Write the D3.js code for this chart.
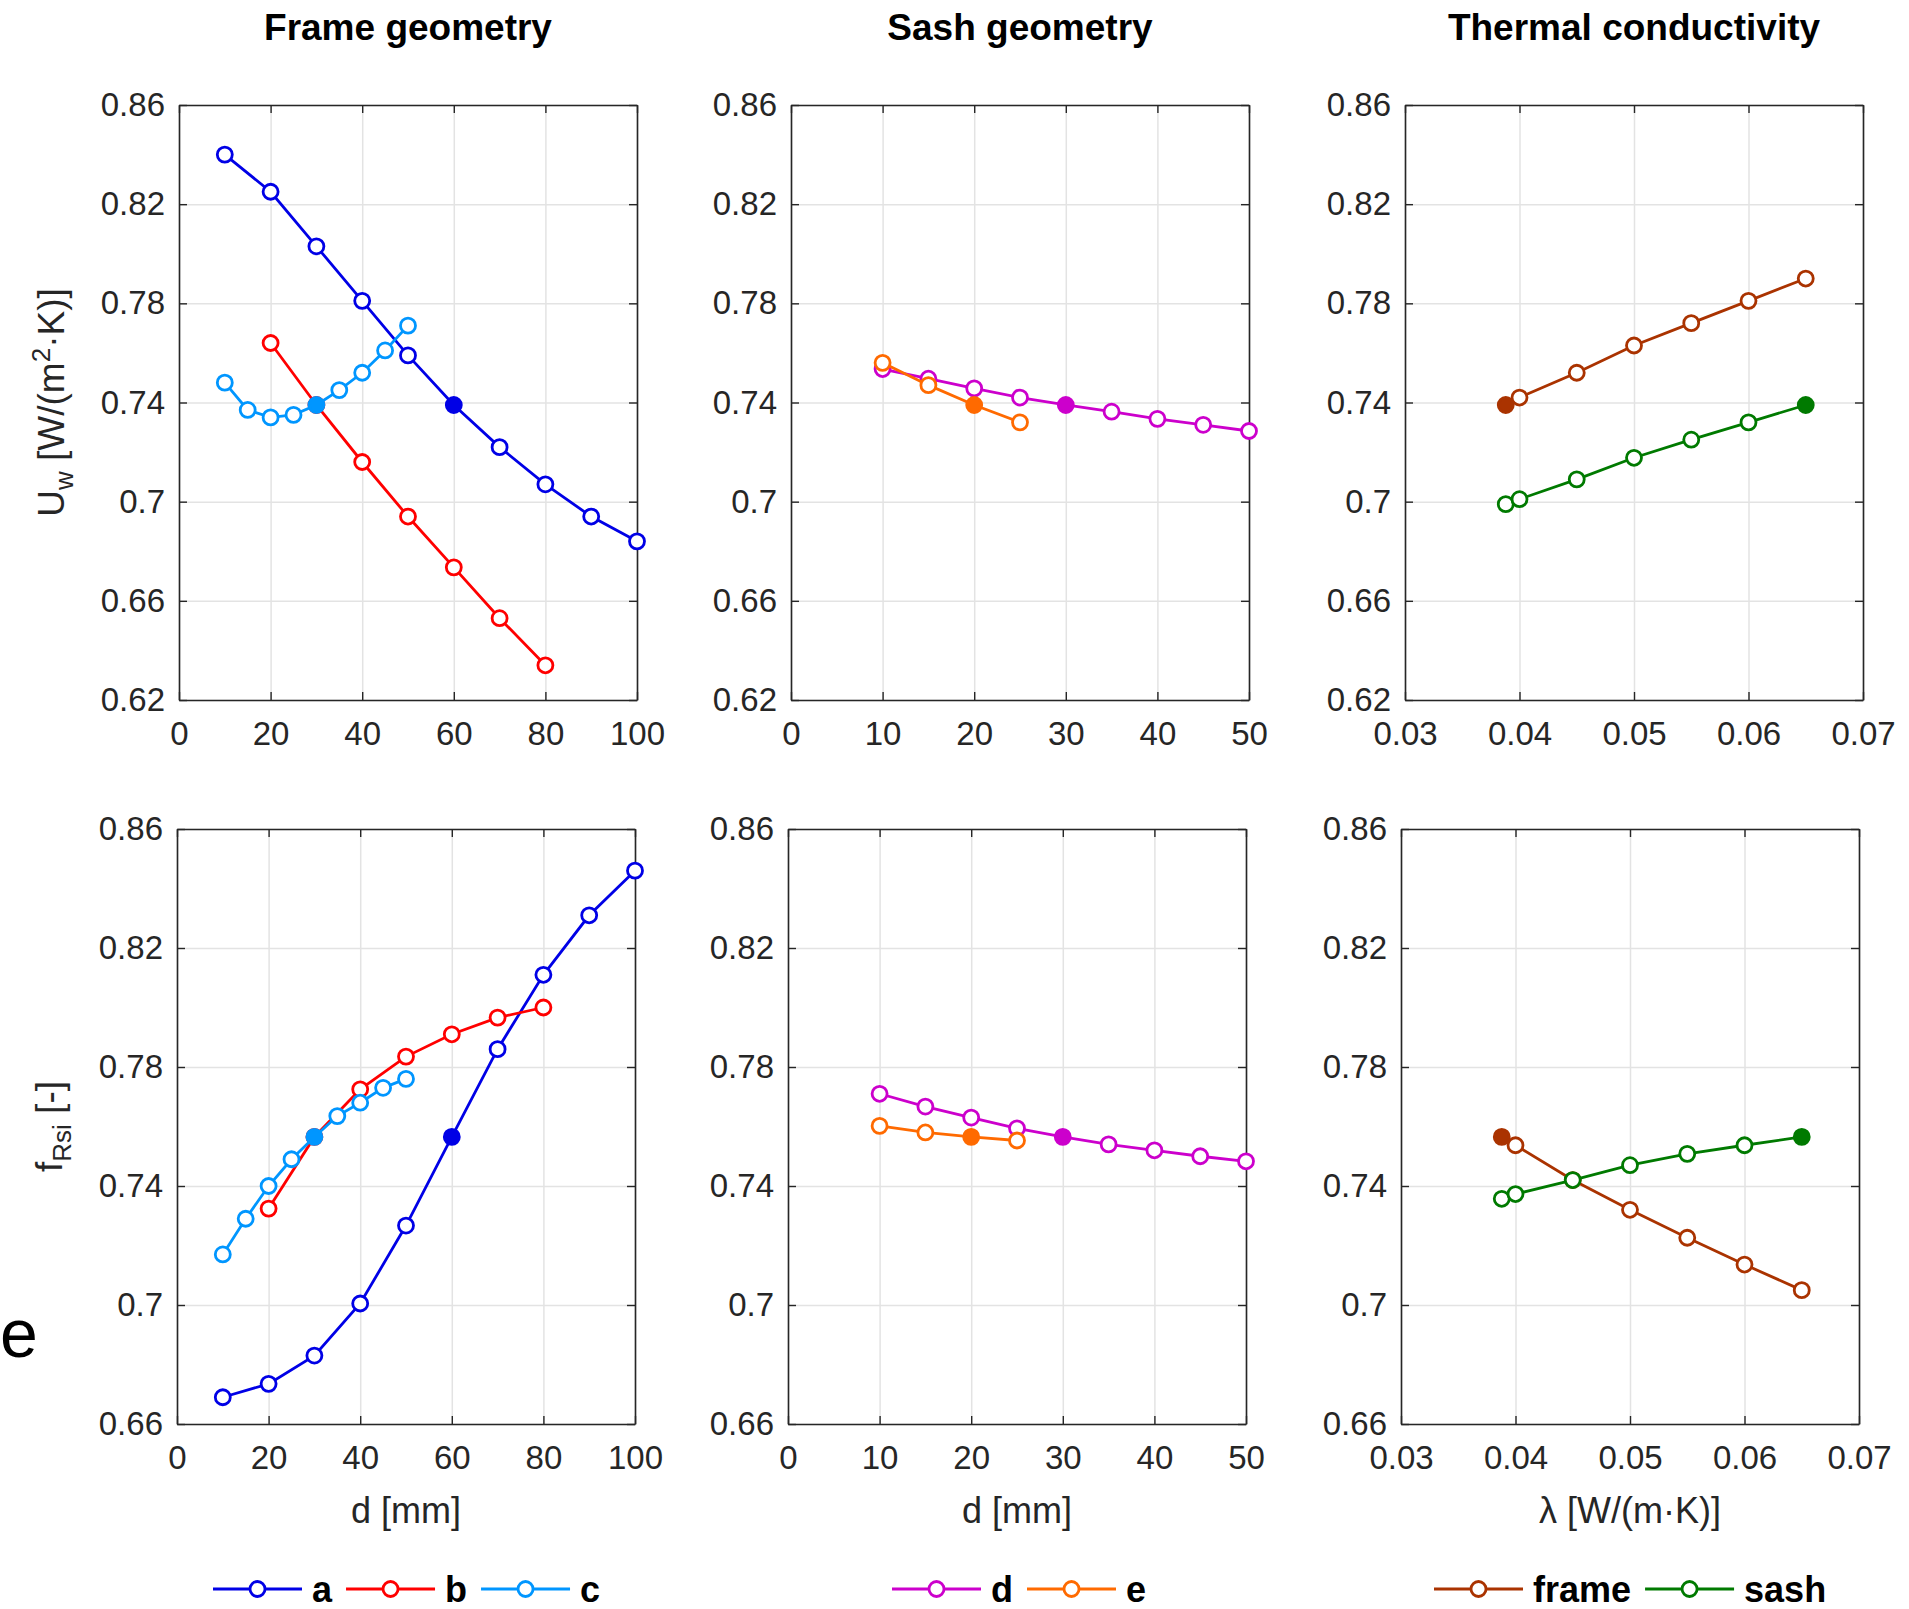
<!DOCTYPE html>
<html>
<head>
<meta charset="utf-8">
<script src="https://cdn.jsdelivr.net/npm/d3@7"></script>
<style>
  body { margin: 0; background: #fff; }
  svg text { font-family: "Liberation Sans", Arial, Helvetica, sans-serif; }
</style>
</head>
<body>
<svg id="chart" width="1909" height="1609"></svg>
<script>
// ---- data ----
// x values (d in mm, lambda in W/(m.K))
const dFrameA = [10, 20, 30, 40, 50, 60, 70, 80, 90, 100];
const dFrameB = [20, 30, 40, 50, 60, 70, 80];
const dFrameC = [10, 15, 20, 25, 30, 35, 40, 45, 50];
const dSashD = [10, 15, 20, 25, 30, 35, 40, 45, 50];
const dSashE = [10, 15, 20, 25];
const lambdaVals = [0.0388, 0.04, 0.045, 0.05, 0.055, 0.06, 0.065];

// U_w [W/(m2.K)]
const uwA = [0.840, 0.825, 0.803, 0.781, 0.759, 0.739, 0.722, 0.707, 0.694, 0.684];
const uwB = [0.764, 0.739, 0.716, 0.694, 0.6735, 0.653, 0.634];
const uwC = [0.748, 0.737, 0.734, 0.735, 0.739, 0.745, 0.752, 0.761, 0.771];
const uwD = [0.7535, 0.7496, 0.7457, 0.742, 0.739, 0.7363, 0.7334, 0.731, 0.7285];
const uwE = [0.756, 0.747, 0.739, 0.732];
const uwFrame = [0.739, 0.742, 0.752, 0.763, 0.772, 0.781, 0.790];
const uwSash = [0.699, 0.701, 0.709, 0.7177, 0.725, 0.732, 0.739];

// f_Rsi [-]
const frsiA = [0.669, 0.6735, 0.683, 0.7005, 0.7267, 0.7565, 0.786, 0.811, 0.831, 0.846];
const frsiB = [0.7324, 0.7565, 0.7725, 0.7835, 0.791, 0.7966, 0.800];
const frsiC = [0.717, 0.729, 0.740, 0.749, 0.7565, 0.7635, 0.768, 0.773, 0.776];
const frsiD = [0.771, 0.7667, 0.763, 0.7594, 0.7565, 0.754, 0.752, 0.750, 0.7483];
const frsiE = [0.7602, 0.758, 0.7565, 0.7553];
const frsiFrame = [0.7565, 0.7537, 0.742, 0.732, 0.7226, 0.7136, 0.705];
const frsiSash = [0.7357, 0.7373, 0.742, 0.747, 0.7508, 0.7537, 0.7565];

// reference case (filled marker) for each series
const baseA = 60, baseB = 30, baseC = 30, baseD = 30, baseE = 20;
const baseFrame = 0.0388, baseSash = 0.065;

// ticks
const xTicksFrame = [0, 20, 40, 60, 80, 100];
const xTicksSash = [0, 10, 20, 30, 40, 50];
const xTicksLambda = [0.03, 0.04, 0.05, 0.06, 0.07];
const yTicksUw = [0.62, 0.66, 0.7, 0.74, 0.78, 0.82, 0.86];
const yTicksFrsi = [0.66, 0.7, 0.74, 0.78, 0.82, 0.86];

const titles = ['Frame geometry', 'Sash geometry', 'Thermal conductivity'];

// ---- series groups ----
const frameSeries = [
  { name: 'a', color: '#0000e6', x: dFrameA, uw: uwA, frsi: frsiA, base: baseA },
  { name: 'b', color: '#ff0000', x: dFrameB, uw: uwB, frsi: frsiB, base: baseB },
  { name: 'c', color: '#0096ff', x: dFrameC, uw: uwC, frsi: frsiC, base: baseC }
];
const sashSeries = [
  { name: 'd', color: '#cc00cc', x: dSashD, uw: uwD, frsi: frsiD, base: baseD },
  { name: 'e', color: '#ff6a00', x: dSashE, uw: uwE, frsi: frsiE, base: baseE }
];
const lambdaSeries = [
  { name: 'frame', color: '#aa3300', x: lambdaVals, uw: uwFrame, frsi: frsiFrame, base: baseFrame },
  { name: 'sash', color: '#007a00', x: lambdaVals, uw: uwSash, frsi: frsiSash, base: baseSash }
];

const svg = d3.select('#chart');
const W = 458, H = 595;
const LW = 2.8, R = 7.5;
const fmt = v => String(+v.toFixed(3));

function drawPanel(left, top, xDomain, xTicks, yDomain, yTicks, series, key) {
  const g = svg.append('g').attr('transform', `translate(${left},${top})`);
  const x = d3.scaleLinear().domain(xDomain).range([0, W]);
  const y = d3.scaleLinear().domain(yDomain).range([H, 0]);

  // grid
  g.append('g')
    .attr('transform', `translate(0,${H})`)
    .call(d3.axisBottom(x).tickValues(xTicks).tickSize(-H).tickFormat(''))
    .call(a => a.select('.domain').remove())
    .selectAll('line').attr('stroke', '#e3e3e3').attr('stroke-width', 1.5);
  g.append('g')
    .call(d3.axisLeft(y).tickValues(yTicks).tickSize(-W).tickFormat(''))
    .call(a => a.select('.domain').remove())
    .selectAll('line').attr('stroke', '#e3e3e3').attr('stroke-width', 1.5);

  // axes with inward ticks
  const bottom = g.append('g')
    .attr('transform', `translate(0,${H})`)
    .call(d3.axisBottom(x).tickValues(xTicks).tickSizeInner(-8).tickSizeOuter(0).tickPadding(22).tickFormat(fmt));
  const leftAx = g.append('g')
    .call(d3.axisLeft(y).tickValues(yTicks).tickSizeInner(-8).tickSizeOuter(0).tickPadding(14).tickFormat(fmt));
  const topAx = g.append('g')
    .call(d3.axisTop(x).tickValues(xTicks).tickSizeInner(-8).tickSizeOuter(0).tickFormat(''));
  const rightAx = g.append('g')
    .attr('transform', `translate(${W},0)`)
    .call(d3.axisRight(y).tickValues(yTicks).tickSizeInner(-8).tickSizeOuter(0).tickFormat(''));
  [bottom, leftAx, topAx, rightAx].forEach(a => {
    a.select('.domain').attr('stroke', '#262626').attr('stroke-width', 1.6);
    a.selectAll('line').attr('stroke', '#262626').attr('stroke-width', 1.4);
    a.selectAll('text').attr('fill', '#262626').style('font-size', '33px');
  });

  const line = d3.line().x(d => x(d[0])).y(d => y(d[1]));

  series.forEach(s => {
    const pts = s.x.map((xv, i) => [xv, s[key][i]]);
    g.append('path')
      .datum(pts)
      .attr('fill', 'none')
      .attr('stroke', s.color)
      .attr('stroke-width', LW)
      .attr('d', line);
    g.selectAll(null)
      .data(pts)
      .enter().append('circle')
      .attr('cx', d => x(d[0]))
      .attr('cy', d => y(d[1]))
      .attr('r', R)
      .attr('fill', d => d[0] === s.base ? s.color : '#fff')
      .attr('stroke', s.color)
      .attr('stroke-width', LW);
  });
  return g;
}

const colLeftTop = [179, 791, 1405];
const colLeftBot = [177, 788, 1401];
const rowTop = [105, 829];
const groups = [
  { series: frameSeries, xDomain: [0, 100], xTicks: xTicksFrame },
  { series: sashSeries, xDomain: [0, 50], xTicks: xTicksSash },
  { series: lambdaSeries, xDomain: [0.03, 0.07], xTicks: xTicksLambda }
];

groups.forEach((gr, i) => {
  drawPanel(colLeftTop[i], rowTop[0], gr.xDomain, gr.xTicks, [0.62, 0.86], yTicksUw, gr.series, 'uw');
  drawPanel(colLeftBot[i], rowTop[1], gr.xDomain, gr.xTicks, [0.66, 0.86], yTicksFrsi, gr.series, 'frsi');

  // column title
  svg.append('text')
    .attr('x', colLeftTop[i] + W / 2)
    .attr('y', 40)
    .attr('text-anchor', 'middle')
    .style('font-size', '37px')
    .style('font-weight', 'bold')
    .attr('fill', '#000')
    .text(titles[i]);
});

// x axis labels
const xLabels = ['d [mm]', 'd [mm]', 'λ [W/(m·K)]'];
xLabels.forEach((t, i) => {
  svg.append('text')
    .attr('x', colLeftBot[i] + W / 2)
    .attr('y', 1523)
    .attr('text-anchor', 'middle')
    .attr('fill', '#262626')
    .style('font-size', '36px')
    .text(t);
});

// y axis labels
const uwLabel = svg.append('text')
  .attr('transform', `translate(64,${105 + H / 2}) rotate(-90)`)
  .attr('text-anchor', 'middle')
  .attr('fill', '#262626')
  .style('font-size', '37px');
uwLabel.append('tspan').text('U');
uwLabel.append('tspan').attr('dy', 9).style('font-size', '26px').text('w');
uwLabel.append('tspan').attr('dy', -9).text(' [W/(m');
uwLabel.append('tspan').attr('dy', -14).style('font-size', '26px').text('2');
uwLabel.append('tspan').attr('dy', 14).text('·K)]');

const frLabel = svg.append('text')
  .attr('transform', `translate(62,${829 + H / 2}) rotate(-90)`)
  .attr('text-anchor', 'middle')
  .attr('fill', '#262626')
  .style('font-size', '37px');
frLabel.append('tspan').text('f');
frLabel.append('tspan').attr('dy', 9).style('font-size', '26px').text('Rsi');
frLabel.append('tspan').attr('dy', -9).text(' [-]');

// stray letter at the left edge
svg.append('text')
  .attr('x', 0)
  .attr('y', 1357)
  .attr('fill', '#000')
  .style('font-size', '68px')
  .text('e');

// legends
const legendStart = [213, 892, 1434];
groups.forEach((gr, i) => {
  let cx = legendStart[i];
  const ly = 1589;
  gr.series.forEach(s => {
    const lg = svg.append('g');
    lg.append('line')
      .attr('x1', cx).attr('x2', cx + 89)
      .attr('y1', ly).attr('y2', ly)
      .attr('stroke', s.color).attr('stroke-width', LW);
    lg.append('circle')
      .attr('cx', cx + 44.5).attr('cy', ly).attr('r', R)
      .attr('fill', '#fff').attr('stroke', s.color).attr('stroke-width', LW);
    const t = lg.append('text')
      .attr('x', cx + 99).attr('y', ly + 13)
      .style('font-size', '36px')
      .style('font-weight', 'bold')
      .attr('fill', '#000')
      .text(s.name);
    cx += 99 + t.node().getComputedTextLength() + 14;
  });
});
</script>
</body>
</html>
